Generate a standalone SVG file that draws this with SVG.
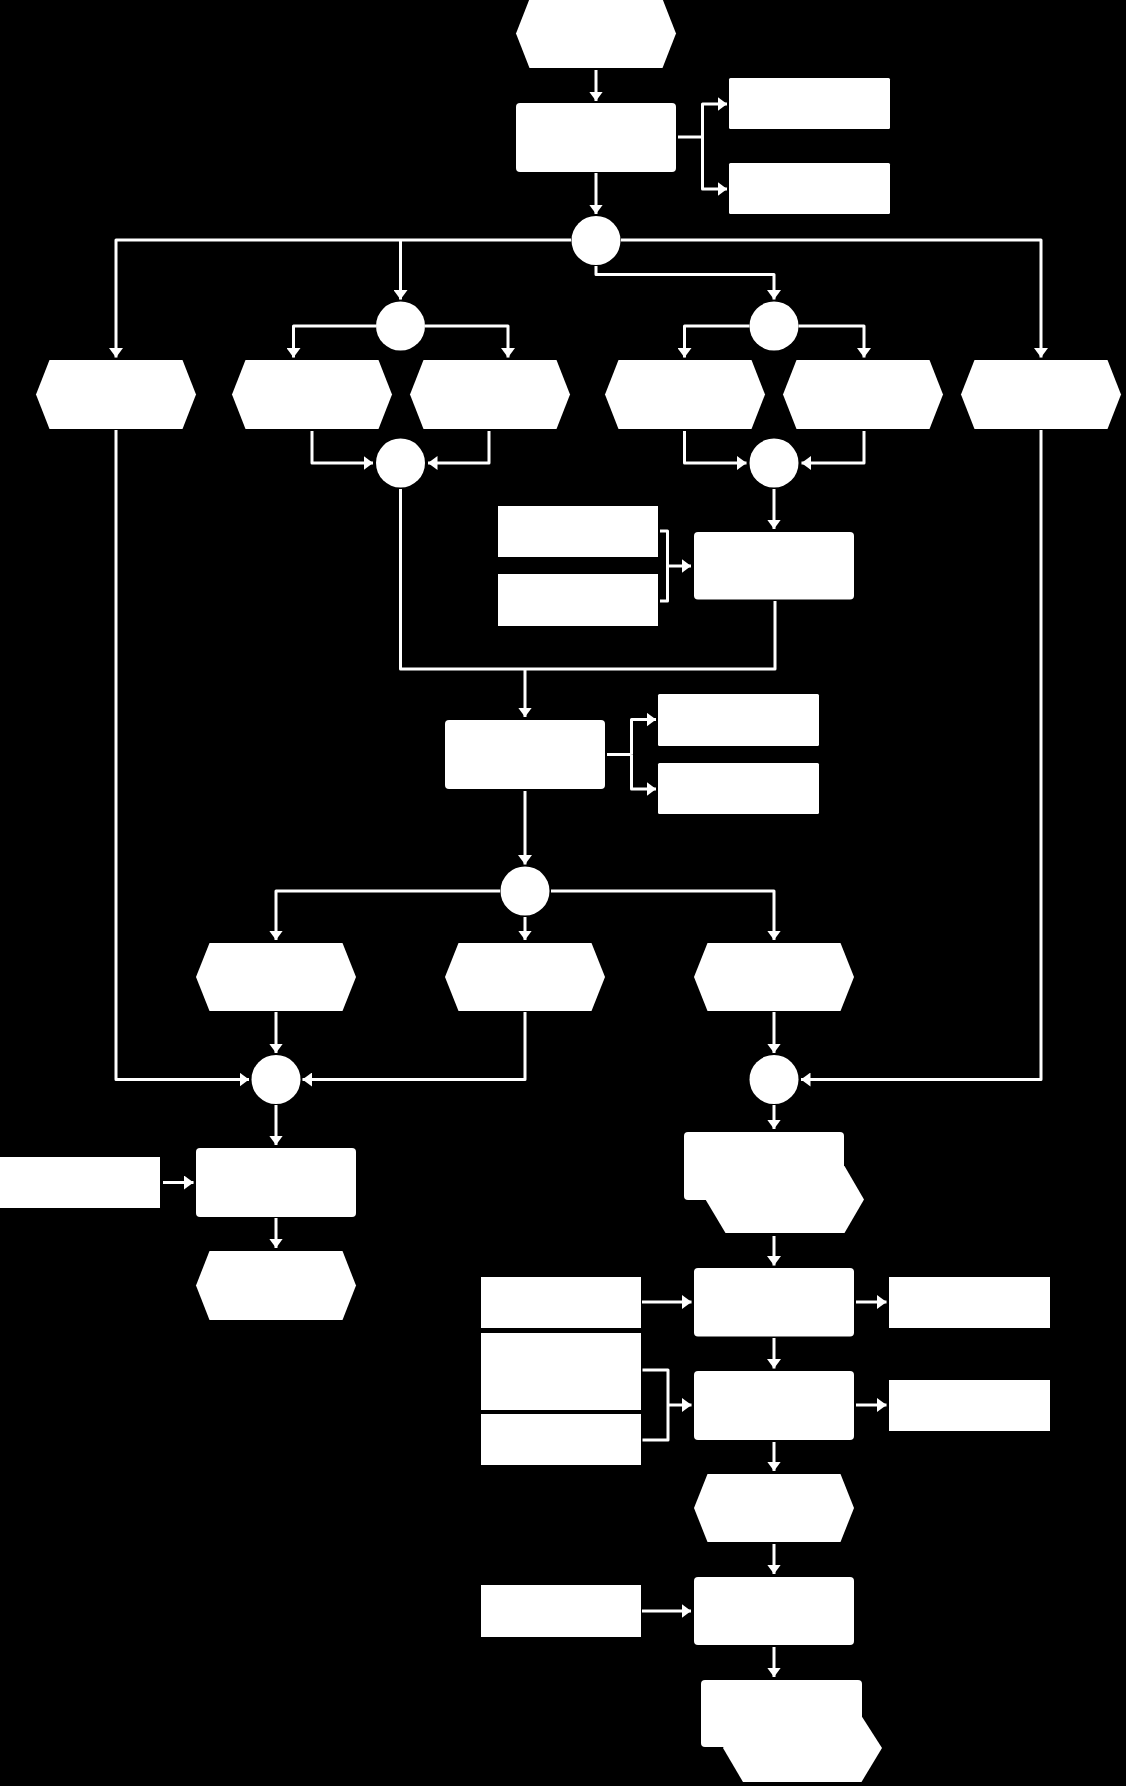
<svg xmlns="http://www.w3.org/2000/svg" width="1126" height="1786" viewBox="0 0 1126 1786">
<style>
.n{fill:#fff;stroke:none}
.c path{fill:none;stroke:#fff;stroke-width:3;stroke-linejoin:round}
.c path.a{marker-end:url(#ah)}
</style>
<defs>
<marker id="ah" markerUnits="userSpaceOnUse" markerWidth="10" markerHeight="14" refX="9.5" refY="7" orient="auto" viewBox="0 0 10 14">
<path d="M0,0 L9.5,7 L0,14 z" fill="#fff"/>
</marker>
</defs>
<rect x="0" y="0" width="1126" height="1786" fill="#000"/>
<g id="connectors" class="c">
<path class="a" d="M596,70 V101"/>
<path class="a" d="M596,173 V214"/>
<path d="M678,137 H702.5"/>
<path class="a" d="M702.5,137 V104 H727"/>
<path class="a" d="M702.5,137 V189 H727"/>
<path class="a" d="M571,240 H116 V357.5"/>
<path class="a" d="M400.5,240 V299.5"/>
<path class="a" d="M621,240 H1041 V357.5"/>
<path class="a" d="M596,266 V274.5 H774 V299.5"/>
<path class="a" d="M376,326 H293.5 V357.5"/>
<path class="a" d="M425,326 H508 V357.5"/>
<path class="a" d="M749.5,326 H684.5 V357.5"/>
<path class="a" d="M798.5,326 H864 V357.5"/>
<path class="a" d="M312,431 V463 H373"/>
<path class="a" d="M489,431 V463 H428"/>
<path class="a" d="M684.5,431 V463 H746.5"/>
<path class="a" d="M864,431 V463 H801.5"/>
<path class="a" d="M774,489 V529"/>
<path d="M660,531 H667.5 V601 H660"/>
<path class="a" d="M667.5,566 H691"/>
<path d="M400.5,489 V669 H775 V601"/>
<path class="a" d="M525,669 V717"/>
<path d="M607,754.5 H631.5"/>
<path class="a" d="M631.5,754.5 V719.5 H656"/>
<path class="a" d="M631.5,754.5 V789 H656"/>
<path class="a" d="M525,791 V864.5"/>
<path class="a" d="M500,891 H276 V940"/>
<path class="a" d="M525,917 V940"/>
<path class="a" d="M551,891 H774 V940"/>
<path class="a" d="M116,430 V1079.5 H249"/>
<path class="a" d="M276,1012 V1053"/>
<path class="a" d="M525,1012 V1079.5 H302.5"/>
<path class="a" d="M774,1012 V1053"/>
<path class="a" d="M1041,430 V1079.5 H801"/>
<path class="a" d="M276,1105 V1145"/>
<path class="a" d="M163,1182.5 H193.5"/>
<path class="a" d="M276,1218 V1248"/>
<path class="a" d="M774,1105 V1129"/>
<path class="a" d="M774,1236 V1265.5"/>
<path class="a" d="M642,1302 H691.5"/>
<path class="a" d="M856,1302 H886.5"/>
<path class="a" d="M774,1338 V1368.5"/>
<path d="M642.5,1370 H668 V1440 H642.5"/>
<path class="a" d="M668,1405 H691.5"/>
<path class="a" d="M856,1405 H886.5"/>
<path class="a" d="M774,1442 V1471"/>
<path class="a" d="M774,1544 V1574"/>
<path class="a" d="M642,1611 H691"/>
<path class="a" d="M774,1647 V1677"/>
</g>
<g id="start"><polygon class="n" points="529.5,-1 662.5,-1 676,33.5 662.5,68 529.5,68 516,33.5"/></g>
<g id="f1"><rect class="n" x="516" y="103" width="160" height="69" rx="4"/></g>
<g id="o1"><rect class="n" x="729" y="78" width="161" height="51" rx="1.5"/></g>
<g id="o2"><rect class="n" x="729" y="163" width="161" height="51" rx="1.5"/></g>
<g id="c1"><circle class="n" cx="596" cy="240.5" r="24.5"/></g>
<g id="c2"><circle class="n" cx="400.5" cy="326" r="24.5"/></g>
<g id="c4"><circle class="n" cx="774" cy="326" r="24.5"/></g>
<g id="e1"><polygon class="n" points="49.5,360 182.5,360 196,394.5 182.5,429 49.5,429 36,394.5"/></g>
<g id="e2"><polygon class="n" points="245.5,360 378.5,360 392,394.5 378.5,429 245.5,429 232,394.5"/></g>
<g id="e3"><polygon class="n" points="423.5,360 556.5,360 570,394.5 556.5,429 423.5,429 410,394.5"/></g>
<g id="e4"><polygon class="n" points="618.5,360 751.5,360 765,394.5 751.5,429 618.5,429 605,394.5"/></g>
<g id="e5"><polygon class="n" points="796.5,360 929.5,360 943,394.5 929.5,429 796.5,429 783,394.5"/></g>
<g id="e6"><polygon class="n" points="974.5,360 1107.5,360 1121,394.5 1107.5,429 974.5,429 961,394.5"/></g>
<g id="c3"><circle class="n" cx="400.5" cy="463" r="24.5"/></g>
<g id="c5"><circle class="n" cx="774" cy="463" r="24.5"/></g>
<g id="i1"><rect class="n" x="498" y="506" width="160" height="51"/></g>
<g id="i2"><rect class="n" x="498" y="574" width="160" height="52"/></g>
<g id="f2"><rect class="n" x="694" y="532" width="160" height="67.5" rx="4"/></g>
<g id="f3"><rect class="n" x="445" y="720" width="160" height="69" rx="4"/></g>
<g id="o3"><rect class="n" x="658" y="694" width="161" height="52" rx="1.5"/></g>
<g id="o4"><rect class="n" x="658" y="763" width="161" height="51" rx="1.5"/></g>
<g id="c7"><circle class="n" cx="525" cy="891" r="24.5"/></g>
<g id="e7"><polygon class="n" points="209.5,943 342.5,943 356,977 342.5,1011 209.5,1011 196,977"/></g>
<g id="e8"><polygon class="n" points="458.5,943 591.5,943 605,977 591.5,1011 458.5,1011 445,977"/></g>
<g id="e10"><polygon class="n" points="707.5,943 840.5,943 854,977 840.5,1011 707.5,1011 694,977"/></g>
<g id="c6"><circle class="n" cx="276" cy="1079.5" r="24.5"/></g>
<g id="c8"><circle class="n" cx="774" cy="1079.5" r="24.5"/></g>
<g id="i3"><rect class="n" x="0" y="1157" width="160" height="51"/></g>
<g id="f4"><rect class="n" x="196" y="1148" width="160" height="69" rx="4"/></g>
<g id="e9"><polygon class="n" points="209.5,1251 342.5,1251 356,1285.5 342.5,1320 209.5,1320 196,1285.5"/></g>
<g id="p1"><rect class="n" x="684" y="1132" width="160" height="68" rx="4"/><polygon class="n" points="725.5,1166 844.5,1166 864,1199.5 844.5,1233 725.5,1233 705.5,1199.5"/></g>
<g id="i4"><rect class="n" x="481" y="1277" width="160" height="51"/></g>
<g id="f5"><rect class="n" x="694" y="1268" width="160" height="68.5" rx="4"/></g>
<g id="o5"><rect class="n" x="889" y="1277" width="161" height="51"/></g>
<g id="i5"><rect class="n" x="481" y="1333" width="160" height="77"/></g>
<g id="i6"><rect class="n" x="481" y="1414" width="160" height="51"/></g>
<g id="f6"><rect class="n" x="694" y="1371" width="160" height="69" rx="4"/></g>
<g id="o6"><rect class="n" x="889" y="1380" width="161" height="51"/></g>
<g id="e11"><polygon class="n" points="707.5,1474 840.5,1474 854,1508 840.5,1542 707.5,1542 694,1508"/></g>
<g id="i7"><rect class="n" x="481" y="1585" width="160" height="52"/></g>
<g id="f7"><rect class="n" x="694" y="1577" width="160" height="68" rx="4"/></g>
<g id="p2"><rect class="n" x="701" y="1680" width="161" height="67" rx="4"/><polygon class="n" points="743,1716 861.5,1716 882,1748 861.5,1782 743,1782 723,1748"/></g>
</svg>
